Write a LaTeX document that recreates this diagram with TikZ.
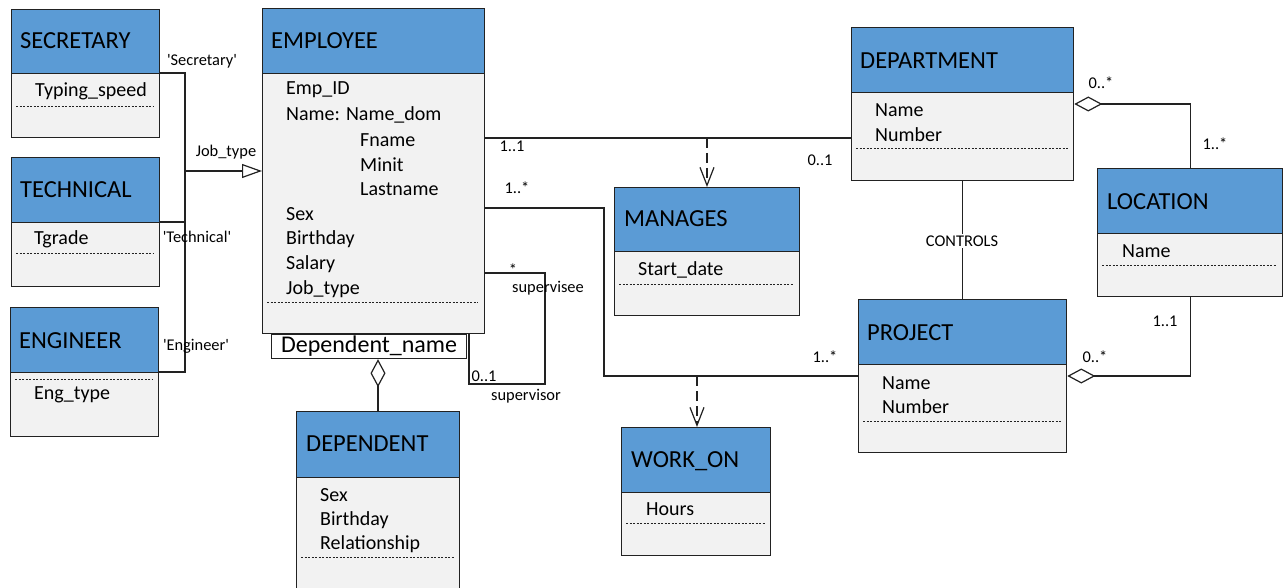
\documentclass[tikz,border=0pt]{standalone}
\usepackage{fontspec}
\setmainfont{Carlito}
\usetikzlibrary{arrows.meta}
\definecolor{hdrblue}{HTML}{5B9BD5}
\definecolor{bodygray}{HTML}{F2F2F2}
\definecolor{edge}{HTML}{222222}
\newcommand{\sq}{\textquotesingle}
\tikzset{
  hdr/.style={draw=edge, line width=1.3pt, fill=hdrblue, anchor=north west, inner sep=0pt},
  bdy/.style={draw=edge, line width=1.3pt, fill=bodygray, anchor=north west, inner sep=0pt},
  ttl/.style={anchor=west, inner sep=0pt, font=\fontsize{24.5}{26}\selectfont},
  attr/.style={anchor=west, inner sep=0pt, font=\fontsize{20}{22}\selectfont},
  lbl/.style={inner sep=0pt, font=\fontsize{16.4}{18}\selectfont},
  sep/.style={draw=edge, line width=0.8pt, dash pattern=on 2pt off 1.5pt},
  conn/.style={draw=edge, line width=1.3pt},
  dep/.style={draw=edge, line width=1.3pt, dash pattern=on 10pt off 5pt, -{Straight Barb[length=18pt,width=14pt,line width=1.2pt]}},
  agg/.style={{Diamond[open,length=28pt,width=15pt,line width=1.2pt]}-}
}
\begin{document}
\begin{tikzpicture}[x=1pt,y=-1pt]
\useasboundingbox (0,0) rectangle (1283,588);
\fill[white] (0,0) rectangle (1283,588);

% SECRETARY
\node[hdr, minimum width=148, minimum height=64] (sech) at (11,9) {};
\node[bdy, minimum width=148, minimum height=64] (secb) at (11,73) {};
\node[ttl] (sect) at (20,41) {SECRETARY};
\node[attr] (seca) at (35,91) {Typing\_speed};
\draw[sep] (16,106) -- (154,106);

% TECHNICAL
\node[hdr, minimum width=148, minimum height=65] (tech) at (11,157) {};
\node[bdy, minimum width=148, minimum height=64] (tecb) at (11,222) {};
\node[ttl] (tect) at (20,190) {TECHNICAL};
\node[attr] (teca) at (34,239) {Tgrade};
\draw[sep] (16,253) -- (154,253);

% ENGINEER
\node[hdr, minimum width=148, minimum height=65] (engh) at (10,307) {};
\node[bdy, minimum width=148, minimum height=64] (engb) at (10,372) {};
\node[ttl] (engt) at (19,341) {ENGINEER};
\draw[sep] (15,379) -- (153,379);
\node[attr] (enga) at (34,395) {Eng\_type};

% EMPLOYEE
\node[hdr, minimum width=222, minimum height=65] (emph) at (262,8) {};
\node[bdy, minimum width=222, minimum height=260] (empb) at (262,73) {};
\node[ttl] (empt) at (271,41) {EMPLOYEE};
\node[attr] (ea1) at (286,90) {Emp\_ID};
\node[attr] (ea2) at (286,115) {Name: Name\_dom};
\node[attr] (ea3) at (360,140) {Fname};
\node[attr] (ea4) at (360,165) {Minit};
\node[attr] (ea5) at (360,189) {Lastname};
\node[attr] (ea6) at (286,214) {Sex};
\node[attr] (ea7) at (286,239) {Birthday};
\node[attr] (ea8) at (286,264) {Salary};
\node[attr] (ea9) at (286,289) {Job\_type};
\draw[sep] (267,302) -- (478,302);

% Dependent_name qualifier
\node[draw=edge, line width=1.2pt, fill=white, anchor=north west, minimum width=195, minimum height=24, inner sep=0pt] (dn) at (271,334) {};
\node[inner sep=0pt, font=\fontsize{24}{26}\selectfont] (dnt) at (dn.center) {Dependent\_name};

% DEPENDENT
\node[hdr, minimum width=163, minimum height=66] (deph) at (296,411) {};
\node[bdy, minimum width=163, minimum height=130] (depb) at (296,477) {};
\node[ttl] (dept) at (306,444) {DEPENDENT};
\node[attr] (da1) at (320,495) {Sex};
\node[attr] (da2) at (320,520) {Birthday};
\node[attr] (da3) at (320,544) {Relationship};
\draw[sep] (301,557) -- (454,557);

% MANAGES
\node[hdr, minimum width=185, minimum height=64] (manh) at (614,187) {};
\node[bdy, minimum width=185, minimum height=64] (manb) at (614,251) {};
\node[ttl] (mant) at (624,219) {MANAGES};
\node[attr] (mana) at (638,270) {Start\_date};
\draw[sep] (619,284) -- (794,284);

% WORK_ON
\node[hdr, minimum width=149, minimum height=65] (worh) at (621,427) {};
\node[bdy, minimum width=149, minimum height=63] (worb) at (621,492) {};
\node[ttl] (wort) at (631,461) {WORK\_ON};
\node[attr] (wora) at (646,509) {Hours};
\draw[sep] (626,523) -- (765,523);

% DEPARTMENT
\node[hdr, minimum width=222, minimum height=65] (deph2) at (851,27) {};
\node[bdy, minimum width=222, minimum height=88] (dptb) at (851,92) {};
\node[ttl] (dptt) at (860,61) {DEPARTMENT};
\node[attr] (dpa1) at (875,110) {Name};
\node[attr] (dpa2) at (875,135) {Number};
\draw[sep] (856,148) -- (1068,148);

% LOCATION
\node[hdr, minimum width=185, minimum height=65] (loch) at (1097,168) {};
\node[bdy, minimum width=185, minimum height=63] (locb) at (1097,233) {};
\node[ttl] (loct) at (1107,202) {LOCATION};
\node[attr] (loca) at (1122,251) {Name};
\draw[sep] (1102,265) -- (1277,265);

% PROJECT
\node[hdr, minimum width=208, minimum height=65] (prjh) at (858,299) {};
\node[bdy, minimum width=208, minimum height=88] (prjb) at (858,364) {};
\node[ttl] (prjt) at (867,333) {PROJECT};
\node[attr] (pra1) at (882,383) {Name};
\node[attr] (pra2) at (882,407) {Number};
\draw[sep] (863,421) -- (1061,421);

% ---------- connectors ----------
% generalization
\coordinate (g1) at (185,73);
\coordinate (g2) at (185,372);
\coordinate (gm) at (185,171);
\draw[conn] (secb.north east) -- (g1) -- (g2) -- (engb.north east);
\draw[conn] (tecb.north east) -- (tecb.north east -| g1);
\draw[conn, -{Triangle[open,length=20pt,width=14pt,line width=1.2pt]}] (gm) -- (gm -| empb.west);

% EMPLOYEE - DEPARTMENT
\coordinate (ed) at (0,138);
\draw[conn] (empb.east |- ed) -- (dptb.west |- ed);
\coordinate (mg) at (707,138);
\draw[dep] (mg) -- (mg |- manh.north);

% EMPLOYEE - PROJECT
\coordinate (ep1) at (0,208);
\coordinate (ep2) at (604,376);
\draw[conn] (empb.east |- ep1) -| (ep2) -- (prjb.west |- ep2);
\coordinate (wo) at (697,376);
\draw[dep] (wo) -- (wo |- worh.north);

% supervision loop
\coordinate (s1) at (0,273);
\coordinate (s2) at (545,384);
\coordinate (sv) at (469,0);
\draw[conn] (empb.east |- s1) -| (s2) -- (s2 -| sv) -- (sv |- empb.south);

% DEPENDENT aggregation
\coordinate (dg) at (378,0);
\draw[conn, agg] (dg |- dn.south) -- (dg |- deph.north);

% CONTROLS
\draw[conn] (dptb.south) -- (prjh.north);
\node[lbl, fill=white, inner sep=2pt] (ctl) at (962,241) {CONTROLS};

% DEPARTMENT - LOCATION
\coordinate (dl) at (0,104);
\draw[conn, agg] (dptb.east |- dl) -| (loch.north);

% LOCATION - PROJECT
\coordinate (pl) at (0,376);
\draw[conn, agg] (prjb.east |- pl) -| (locb.south);

% ---------- labels ----------
\node[lbl] (l1) at (202,61) {\sq Secretary\sq};
\node[lbl] (l2) at (226,152) {Job\_type};
\node[lbl] (l3) at (197,237) {\sq Technical\sq};
\node[lbl] (l4) at (196,346) {\sq Engineer\sq};
\node[lbl] (l5) at (512,146) {1..1};
\node[lbl] (l6) at (820,160) {0..1};
\node[lbl] (l7) at (517,188) {1..*};
\node[lbl] (l8) at (513,270) {*};
\node[lbl] (l9) at (548,288) {supervisee};
\node[lbl] (l10) at (484,376) {0..1};
\node[lbl] (l11) at (526,396) {supervisor};
\node[lbl] (l12) at (825,357) {1..*};
\node[lbl] (l13) at (1101,83) {0..*};
\node[lbl] (l14) at (1215,144) {1..*};
\node[lbl] (l15) at (1165,321) {1..1};
\node[lbl] (l16) at (1095,357) {0..*};
\end{tikzpicture}
\end{document}
